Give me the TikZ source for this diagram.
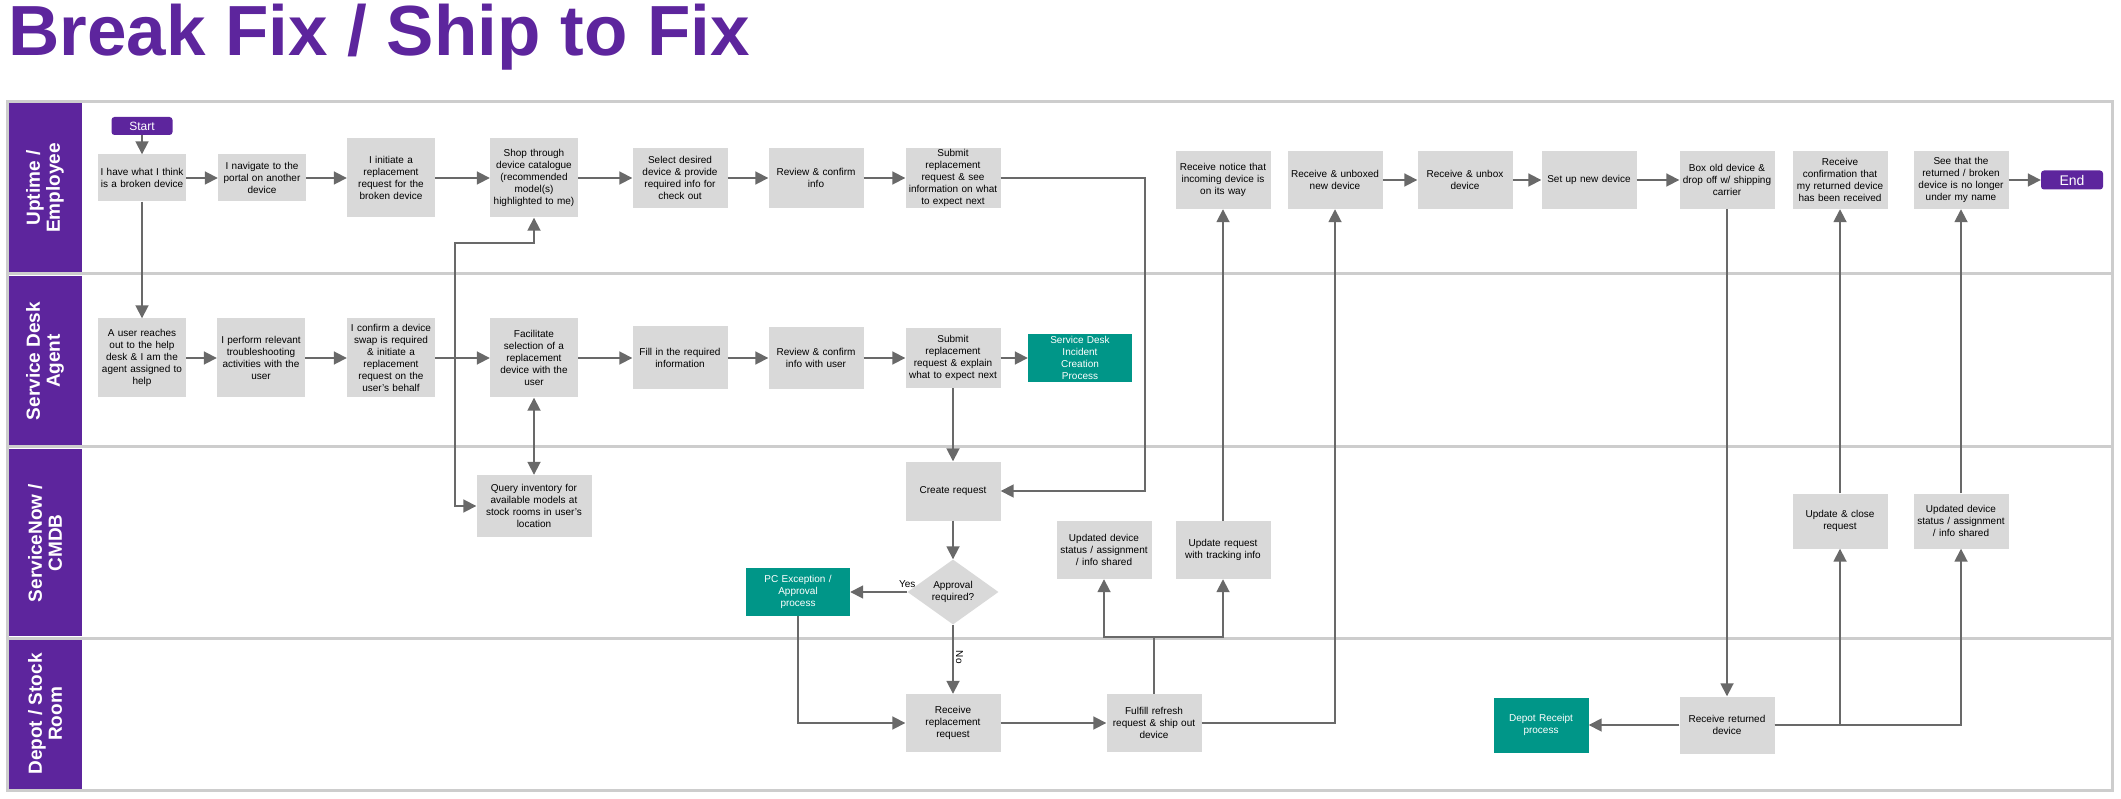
\documentclass[tikz,border=0pt]{standalone}
\usepackage{fontspec}
\setmainfont{Liberation Sans}
\usetikzlibrary{shapes.geometric,arrows.meta,calc}
\definecolor{brandpurple}{RGB}{93,37,157}
\definecolor{boxgray}{RGB}{217,217,217}
\definecolor{procteal}{RGB}{0,150,136}
\definecolor{linegray}{RGB}{105,105,105}
\definecolor{lanegray}{RGB}{205,205,205}
\newcommand{\boxfont}{\fontsize{10}{12}\selectfont}

\begin{document}
\begin{tikzpicture}[
    x=1pt, y=-1pt,
    box/.style={fill=boxgray, text width=86pt, text centered, minimum width=88pt, minimum height=47pt, inner sep=1pt, font=\boxfont},
    tallbox/.style={box, minimum height=79pt},
    wbox/.style={box, text width=93pt, minimum width=95pt, minimum height=60pt},
    extproc/.style={fill=procteal, text=white, text width=100pt, text centered, minimum width=104pt, minimum height=48pt, inner sep=1pt, font=\boxfont},
    term/.style={fill=brandpurple, text=white, rounded corners=3pt, minimum width=61pt, minimum height=18pt, inner sep=0pt},
    decision/.style={diamond, fill=boxgray, aspect=1.4, minimum width=91pt, minimum height=65pt, inner sep=0pt, align=center, font=\boxfont},
    lanelabel/.style={rotate=90, text=white, align=center, font=\fontsize{19}{20}\selectfont\bfseries},
    flow/.style={draw=linegray, line width=1.8pt, -{Triangle[length=13pt,width=13pt]}},
    biflow/.style={draw=linegray, line width=1.8pt, {Triangle[length=13pt,width=13pt]}-{Triangle[length=13pt,width=13pt]}},
    link/.style={draw=linegray, line width=1.8pt}
]
\useasboundingbox (0,0) rectangle (2121,799);

% Title
\node[anchor=base west, text=brandpurple, font=\fontsize{71}{80}\selectfont\bfseries, inner sep=0pt] (title) at (8,56) {Break Fix / Ship to Fix};

% Swimlanes
\fill[brandpurple] (8,103) rectangle (82,272);
\fill[brandpurple] (8,276) rectangle (82,445);
\fill[brandpurple] (8,449) rectangle (82,636);
\fill[brandpurple] (8,640) rectangle (82,789);
\draw[lanegray, line width=3pt] (7,102) rectangle (2112,790);
\draw[lanegray, line width=3pt] (7,274) -- (2112,274);
\draw[lanegray, line width=3pt] (7,447) -- (2112,447);
\draw[lanegray, line width=3pt] (7,638) -- (2112,638);

\node[lanelabel] (laneemp) at (45,188) {Uptime /\\Employee};
\node[lanelabel] (laneagent) at (45,361) {Service Desk\\Agent};
\node[lanelabel] (lanesnow) at (45,543) {ServiceNow /\\CMDB};
\node[lanelabel] (lanedepot) at (45,714) {Depot / Stock\\Room};

% Uptime / Employee
\node[term, font=\fontsize{12}{14}\selectfont] (start) at (142,126) {Start};
\node[box] (broken) at (142,178) {I have what I think\\is a broken device};
\node[box] (portal) at (262,178) {I navigate to the\\portal on another\\device};
\node[tallbox] (initiate) at (391,178) {I initiate a\\replacement\\request for the\\broken device};
\node[tallbox] (shop) at (534,178) {Shop through\\device catalogue\\(recommended\\model(s)\\highlighted to me)};
\node[wbox] (select) at (680,178) {Select desired\\device \& provide\\required info for\\check out};
\node[wbox] (reviewemp) at (816,178) {Review \& confirm\\info};
\node[wbox] (submitemp) at (953,178) {Submit\\replacement\\request \& see\\information on what\\to expect next};
\node[wbox, minimum height=58pt] (notice) at (1223,180) {Receive notice that\\incoming device is\\on its way};
\node[wbox, minimum height=58pt] (unboxed) at (1335,180) {Receive \& unboxed\\new device};
\node[wbox, minimum height=58pt] (unbox) at (1465,180) {Receive \& unbox\\device};
\node[wbox, minimum height=58pt] (setup) at (1589,180) {Set up new device};
\node[wbox, minimum height=58pt] (boxold) at (1727,180) {Box old device \&\\drop off w/ shipping\\carrier};
\node[wbox, minimum height=58pt] (confirmrec) at (1840,180) {Receive\\confirmation that\\my returned device\\has been received};
\node[wbox, minimum height=58pt] (nolonger) at (1961,180) {See that the\\returned / broken\\device is no longer\\under my name};
\node[term, minimum width=62pt, minimum height=19pt, font=\fontsize{14}{16}\selectfont] (end) at (2072,180) {End};

% Service Desk Agent
\node[tallbox] (helpdesk) at (142,358) {A user reaches\\out to the help\\desk \& I am the\\agent assigned to\\help};
\node[tallbox] (troubleshoot) at (261,358) {I perform relevant\\troubleshooting\\activities with the\\user};
\node[tallbox] (confirmswap) at (391,358) {I confirm a device\\swap is required\\\& initiate a\\replacement\\request on the\\user's behalf};
\node[tallbox] (facilitate) at (534,358) {Facilitate\\selection of a\\replacement\\device with the\\user};
\node[wbox, minimum height=63pt] (fillin) at (680,358) {Fill in the required\\information};
\node[wbox, minimum height=62pt] (reviewagent) at (816,358) {Review \& confirm\\info with user};
\node[wbox] (submitagent) at (953,358) {Submit\\replacement\\request \& explain\\what to expect next};
\node[extproc] (incident) at (1080,358) {Service Desk\\Incident\\Creation\\Process};

% ServiceNow / CMDB
\node[box, text width=113pt, minimum width=115pt, minimum height=62pt] (query) at (534,506) {Query inventory for\\available models at\\stock rooms in user's\\location};
\node[wbox, minimum height=59pt] (create) at (953,491) {Create request};
\node[decision] (approval) at (953,592) {Approval\\required?};
\node[extproc] (pcexc) at (798,592) {PC Exception /\\Approval\\process};
\node[wbox, minimum height=58pt] (updstatus) at (1104,550) {Updated device\\status / assignment\\/ info shared};
\node[wbox, minimum height=58pt] (tracking) at (1223,550) {Update request\\with tracking info};
\node[wbox, minimum height=55pt] (closereq) at (1840,521) {Update \& close\\request};
\node[wbox, minimum height=55pt] (updstatus2) at (1961,521) {Updated device\\status / assignment\\/ info shared};

% Depot / Stock Room
\node[wbox, minimum height=58pt] (receiverepl) at (953,723) {Receive\\replacement\\request};
\node[wbox, minimum height=58pt] (fulfill) at (1154,723) {Fulfill refresh\\request \& ship out\\device};
\node[extproc, text width=91pt, minimum width=95pt, minimum height=55pt] (depotrec) at (1541,725) {Depot Receipt\\process};
\node[wbox, minimum height=57pt] (receiveret) at (1727,725) {Receive returned\\device};

% Turning points
\coordinate (qturn) at (455,243);
\coordinate (sturn) at (1145,491);
\coordinate (fsplit) at (1154,637);

% Connections
\draw[flow] (start) -- (broken);
\draw[flow] (broken) -- (portal);
\draw[flow] (portal) -- (initiate);
\draw[flow] (initiate) -- (shop);
\draw[flow] (shop) -- (select);
\draw[flow] (select) -- (reviewemp);
\draw[flow] (reviewemp) -- (submitemp);
\draw[flow] (broken) -- (helpdesk);

\draw[flow] (helpdesk) -- (troubleshoot);
\draw[flow] (troubleshoot) -- (confirmswap);
\draw[flow] (confirmswap) -- (facilitate);
\draw[flow] (facilitate) -- (fillin);
\draw[flow] (fillin) -- (reviewagent);
\draw[flow] (reviewagent) -- (submitagent);
\draw[flow] (submitagent) -- (incident);

\draw[biflow] (facilitate) -- (query);
\draw[biflow] (query.west) -| (qturn) -| (shop.south);

\draw[flow] (submitemp.east) -| (sturn) -- (create.east);
\draw[flow] (submitagent) -- (create);
\draw[flow] (create) -- (approval);
\draw[flow] (approval) -- node[pos=0, above=3pt, inner sep=1pt, font=\boxfont] {Yes} (pcexc);
\draw[flow] (approval) -- node[pos=0.47, rotate=-90, anchor=south, inner sep=2pt, font=\boxfont] {No} (receiverepl);
\draw[flow] (pcexc.south) |- (receiverepl.west);
\draw[flow] (receiverepl) -- (fulfill);

\draw[link] (fulfill) -- (fsplit);
\draw[flow] (fsplit) -| (updstatus.south);
\draw[flow] (fsplit) -| (tracking.south);
\draw[flow] (tracking) -- (notice);
\draw[flow] (fulfill.east) -| (unboxed.south);

\draw[flow] (unboxed) -- (unbox);
\draw[flow] (unbox) -- (setup);
\draw[flow] (setup) -- (boxold);
\draw[flow] (boxold) -- (receiveret);
\draw[flow] (receiveret) -- (depotrec);
\draw[flow] (receiveret.east) -| (closereq.south);
\draw[flow] (receiveret.east) -| (updstatus2.south);
\draw[flow] (closereq) -- (confirmrec);
\draw[flow] (updstatus2) -- (nolonger);
\draw[flow] (nolonger) -- (end);

\end{tikzpicture}
\end{document}
